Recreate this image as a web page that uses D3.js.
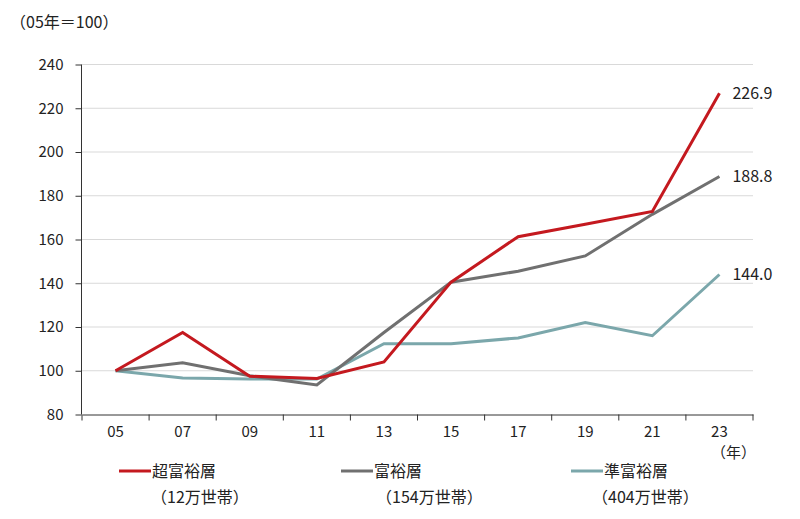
<!DOCTYPE html>
<html><head><meta charset="utf-8">
<script src="https://cdn.jsdelivr.net/npm/d3@7/dist/d3.min.js"></script>
<style>body{margin:0;background:#fff}svg{display:block}text{font-family:"Noto Sans CJK JP","Noto Sans",sans-serif;fill:#222}</style>
</head><body><svg id="c" width="800" height="519"></svg>
<script>
const years = ["05","07","09","11","13","15","17","19","21","23"];
const yTicks = [80,100,120,140,160,180,200,220,240];
const ultra = [100,117.5,97.5,96.5,104,140.5,161.3,167,172.8,226.9];
const rich = [100,103.7,97.7,93.5,117.5,140.5,145.5,152.5,171.5,188.8];
const upper = [100,96.7,96.2,96.2,112.4,112.4,115,122,116,144.0];
const seriesNames = ["超富裕層","富裕層","準富裕層"];
const seriesSub = ["（12万世帯）","（154万世帯）","（404万世帯）"];
const endLabels = ["226.9","188.8","144.0"];
const colors = ["#c4191f","#707070","#7ba7ab"];

const svg = d3.select("#c");
const x = d3.scaleBand().domain(years).range([82,753]);
const y = d3.scaleLinear().domain([80,240]).range([414.5,64.5]);

svg.append("g").selectAll("line").data(yTicks.filter(d=>d>80)).join("line")
  .attr("x1",82).attr("x2",753).attr("y1",d=>y(d)).attr("y2",d=>y(d))
  .attr("stroke","#d9d9d9").attr("stroke-width",1);

const ya = svg.append("g").attr("transform","translate(81.5,0)")
  .call(d3.axisLeft(y).tickValues(yTicks).tickSize(6).tickPadding(12).tickFormat(d3.format("d")));
ya.select(".domain").attr("stroke","#333").attr("d","M0,"+y(240)+"V"+y(80));
ya.selectAll(".tick line").attr("stroke","#333");
ya.selectAll("text").style("font-size","15px").attr("fill","#222");

const xa = svg.append("g").attr("transform","translate(0,414.5)")
  .call(d3.axisBottom(x).tickSize(0).tickPadding(12));
xa.select(".domain").attr("stroke","#333");
xa.selectAll("text").style("font-size","15px").attr("fill","#222");
svg.append("g").selectAll("line").data(d3.range(years.length+1)).join("line")
  .attr("x1",i=>82+i*x.step()).attr("x2",i=>82+i*x.step())
  .attr("y1",414.5).attr("y2",420.5).attr("stroke","#333");

const cx = d=>x(d)+x.bandwidth()/2;
const line = d3.line().x((d,i)=>cx(years[i])).y(d=>y(d));
const data = [upper, rich, ultra];
const cols = [colors[2],colors[1],colors[0]];
svg.append("g").selectAll("path").data(data).join("path")
  .attr("d",line).attr("fill","none").attr("stroke",(d,i)=>cols[i]).attr("stroke-width",3);

[ultra,rich,upper].forEach((s,i)=>{
  svg.append("text").attr("x",cx("23")+13).attr("y",y(s[s.length-1])).attr("dy","0.35em")
    .style("font-size","16px").text(endLabels[i]);
});

svg.append("text").attr("x",10).attr("y",22).attr("dy","0.35em").style("font-size","16px").text("（05年＝100）");
svg.append("text").attr("x",711).attr("y",453).attr("dy","0.35em").style("font-size","15px").text("（年）");

const lx = [119,341,571];
const subx = [151,376,592];
seriesNames.forEach((n,i)=>{
  svg.append("line").attr("x1",lx[i]).attr("x2",lx[i]+32).attr("y1",471).attr("y2",471)
    .attr("stroke",colors[i]).attr("stroke-width",3);
  svg.append("text").attr("x",lx[i]+33).attr("y",471).attr("dy","0.35em").style("font-size","16px").text(n);
  svg.append("text").attr("x",subx[i]).attr("y",497).attr("dy","0.35em").style("font-size","16px").text(seriesSub[i]);
});
</script></body></html>
